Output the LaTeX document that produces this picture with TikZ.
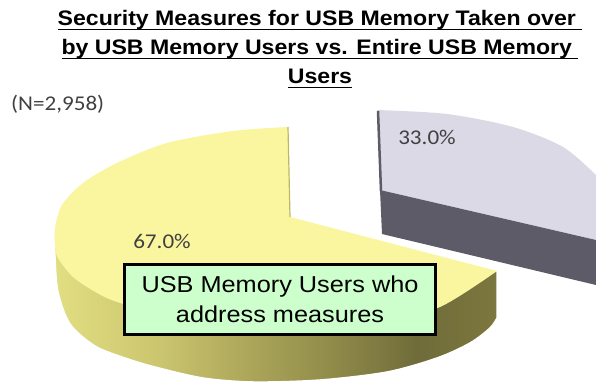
\documentclass[tikz,border=0pt]{standalone}
\usepackage{fontspec}
\setmainfont{Liberation Sans}
\newfontfamily\widesans{Liberation Sans}[FakeStretch=1.1]
\newfontfamily\widecal{Carlito}[FakeStretch=1.1]
\definecolor{topyellow}{RGB}{250,246,160}
\definecolor{sideA}{RGB}{226,222,130}
\definecolor{sideB}{RGB}{205,200,112}
\definecolor{sideC}{RGB}{172,166,90}
\definecolor{sideD}{RGB}{145,140,74}
\definecolor{sideE}{RGB}{112,108,58}
\definecolor{sideF}{RGB}{124,119,62}
\definecolor{edgeolive}{RGB}{190,184,100}
\definecolor{graytop}{RGB}{219,217,229}
\definecolor{graydark}{RGB}{94,91,104}
\definecolor{boxgreen}{RGB}{204,255,204}
\definecolor{labelgray}{RGB}{64,64,64}
\pgfdeclarehorizontalshading{yellowside}{100bp}{color(0bp)=(sideA); color(25bp)=(sideA); color(36bp)=(sideB); color(47bp)=(sideC); color(56bp)=(sideD); color(66bp)=(sideE); color(75bp)=(sideF); color(100bp)=(sideF)}
\newcommand{\ttlline}[1]{\underline{\smash{#1}\rule[-2.5pt]{0pt}{2.5pt}}}

\begin{document}
\begin{tikzpicture}[
  x=1pt, y=-1pt,
  pct/.style={text=labelgray, inner sep=0pt, font=\widecal\fontsize{21}{25}\selectfont},
  title/.style={anchor=north, inner sep=0pt, align=center, font=\widesans\bfseries\fontsize{21}{29}\selectfont},
  memberbox/.style={rectangle, draw, line width=2.5pt, fill=boxgreen, align=center, inner sep=0pt, minimum width=311pt, minimum height=70pt, font=\widesans\fontsize{23}{30}\selectfont}
]
\useasboundingbox (0,0) rectangle (596,382);

\fill[graytop] (380,190) -- (377,110) -- plot[smooth] coordinates {(377,110) (447,114) (513,127) (563,147) (596,175)} -- (596,240) -- cycle;
\fill[graydark] (380,190) -- (596,240) -- (596,285) -- (382,234) -- cycle;
\draw[graydark, line width=2.5pt] (378,111) -- (381,191);

\shadedraw[shading=yellowside, draw=white, line width=1.5pt] plot[smooth] coordinates {(288,127) (233,131) (167,143) (117,163) (83,183) (62,205) (55,228) (55,257) (58,292) (70,324) (95,346) (125,358) (155,367) (203,378) (253,382) (320,380) (387,372) (437,358) (470,343) (490,328) (497,318)} -- (497,271) -- (290,217) -- cycle;
\fill[topyellow] plot[smooth] coordinates {(288,127) (233,131) (167,143) (117,163) (83,183) (62,205) (55,228) (55,245) (58,258) (73,277) (97,293) (120,303) (180,320) (280,330) (380,322) (440,307) (497,271)} -- (290,217) -- cycle;
\draw[edgeolive, line width=1.2pt] (288,127) -- (290,217);

\node[pct, anchor=west] (samplesize) at (11,104) {(N=2,958)};
\node[pct] (pctyellow) at (162,241) {67.0\%};
\node[pct] (pctgray) at (427,137) {33.0\%};

\node[memberbox] (usersbox) at (280,299.5) {USB Memory Users who\\address measures};

\node[title] (charttitle) at (320,25) {\ttlline{Security Measures for USB Memory Taken over\ }\\\ttlline{by USB Memory Users vs. Entire USB Memory\ }\\\ttlline{Users}};
\end{tikzpicture}
\end{document}
